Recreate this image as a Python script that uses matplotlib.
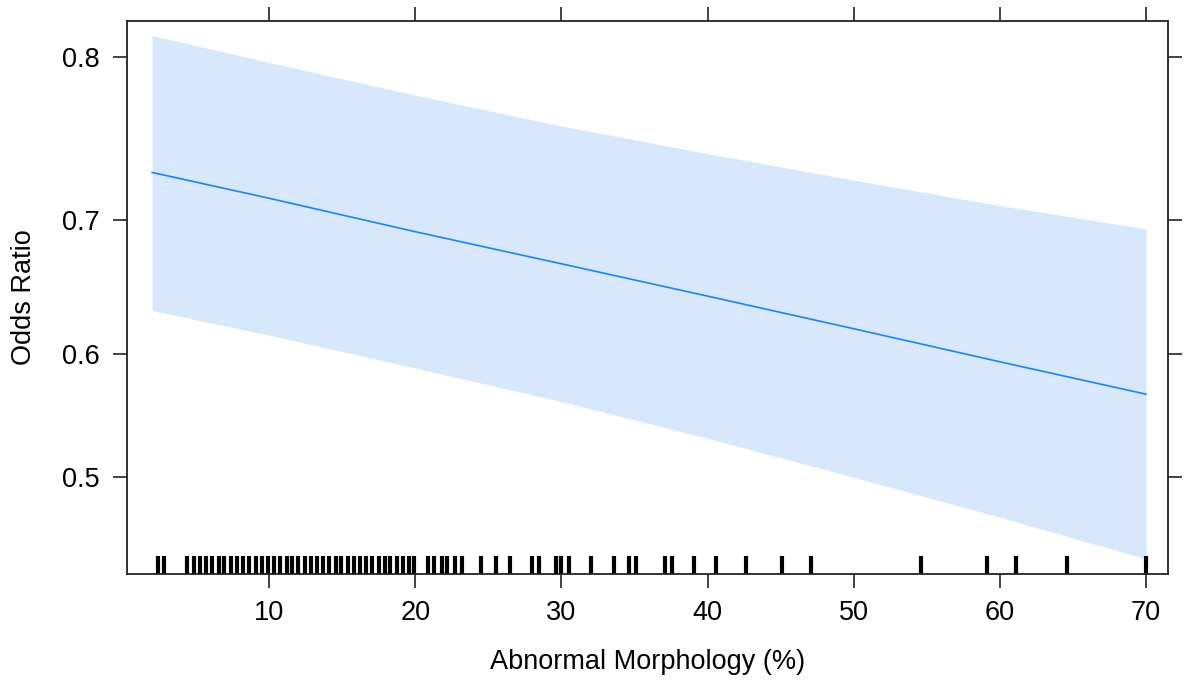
import matplotlib
matplotlib.use("Agg")
import matplotlib.pyplot as plt
from matplotlib.ticker import FixedLocator, FixedFormatter, NullLocator

plt.rcParams['font.family'] = ['Liberation Sans', 'DejaVu Sans']

# effect curve and confidence band
morph = [2, 10, 20, 30, 40, 50, 60, 70]
fit = [0.732, 0.715, 0.692, 0.669, 0.645, 0.620, 0.594, 0.568]
upper = [0.811, 0.797, 0.779, 0.761, 0.744, 0.727, 0.710, 0.694]
lower = [0.634, 0.615, 0.589, 0.562, 0.532, 0.500, 0.467, 0.433]

# rug of observed values
rug = [2.4, 2.8, 4.4, 4.85, 5.25, 5.7, 6.1, 6.55, 6.95, 7.4, 7.8, 8.25,
       8.65, 9.1, 9.5, 9.9, 10.35, 10.75, 11.2, 11.6, 12.0, 12.45, 12.85,
       13.3, 13.7, 14.1, 14.55, 14.95, 15.4, 15.8, 16.2, 16.65, 17.05,
       17.5, 17.9, 18.3, 18.75, 19.15, 19.55, 19.95, 20.9, 21.3, 21.8,
       22.2, 22.7, 23.2, 24.5, 25.5, 26.5, 28.0, 28.5, 29.6, 30.0, 30.5,
       32.0, 33.6, 34.6, 35.1, 37.1, 37.6, 39.1, 40.6, 42.6, 45.1, 47.1,
       54.6, 59.1, 61.1, 64.6, 70.0]

xticks = [10, 20, 30, 40, 50, 60, 70]
yticks = [0.5, 0.6, 0.7, 0.8]

fig = plt.figure(figsize=(11.94, 6.82), dpi=100)
ax = fig.add_axes([0.1066, 0.1584, 0.8716, 0.8108])

ax.fill_between(morph, lower, upper, color='#d7e8fc', lw=0)
ax.plot(morph, fit, color='#1a84f2', lw=1.2)
ax.vlines(rug, 0, 0.033, transform=ax.get_xaxis_transform(),
          color='black', lw=3.0)

ax.set_yscale('logit')
ax.set_xlim(0.3, 71.5)
ax.set_ylim(0.4209, 0.8182)
ax.yaxis.set_major_locator(FixedLocator(yticks))
ax.yaxis.set_major_formatter(FixedFormatter([str(v) for v in yticks]))
ax.yaxis.set_minor_locator(NullLocator())
ax.set_xticks(xticks)

ax.tick_params(axis='both', which='major', direction='out', length=10,
               width=1.2, labelsize=19.5, top=True, right=True, color='#222222')
ax.tick_params(axis='y', pad=10)
ax.tick_params(axis='x', pad=9)
for s in ax.spines.values():
    s.set_linewidth(1.3)
    s.set_color('#222222')

ax.set_xlabel('Abnormal Morphology (%)', fontsize=19.5, labelpad=16)
ax.set_ylabel('Odds Ratio', fontsize=19.5, labelpad=18)

fig.savefig('out.png', dpi=100)
